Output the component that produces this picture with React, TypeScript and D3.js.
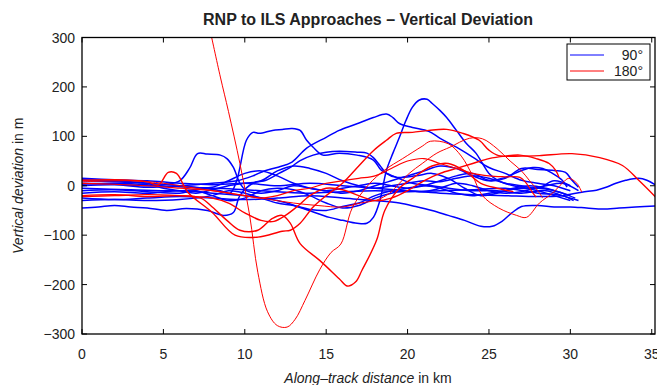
import React from 'react';
import * as d3 from 'd3';

const xTicks = [0, 5, 10, 15, 20, 25, 30, 35];
const yTicks = [-300, -200, -100, 0, 100, 200, 300];

// 90° approaches: [km, m]
const blue90: [number, number][][] = [
  [[0,-45],[1,-43],[2,-40],[3,-43],[4,-45],[5.2,-50],[6.4,-46],[7.7,-50],[8.7,-60],[9.3,-54],[9.7,-20],[10.5,5],[11.3,11],[12.1,25],[12.8,37],[13.4,51],[14.2,62],[15,68],[15.8,70],[16.9,68],[17.5,66],[17.9,57],[18.3,41],[18.7,25],[19.3,17],[20.5,20],[21.5,25],[22.5,15],[23.5,-5],[24.5,-20],[25.5,-15],[26.5,-5],[27.5,0],[28.5,-5],[29.5,-15],[30.3,-25]],
  [[0,10],[2,8],[4,5],[6,0],[7.5,-5],[8.5,-10],[9.1,-15],[9.5,10],[10.1,92],[10.5,108],[10.9,106],[11.7,112],[12.3,114],[12.9,116],[13.4,112],[13.8,92],[14.2,78],[14.8,62],[15.8,66],[16.9,62],[17.9,52],[18.4,31],[19.3,17],[20.3,5],[21.5,0],[22.5,-5],[24,-10],[25.5,-10],[27,-15],[28.5,-10],[29.5,-20],[30.5,-30]],
  [[0,-15],[2,-12],[4,-15],[6,-10],[8,-15],[10,-20],[12,-30],[13.5,-45],[15.2,-64],[16,-70],[16.9,-76],[17.5,-76],[17.9,-64],[18.3,-30],[18.7,31],[19.1,66],[19.5,98],[19.9,132],[20.3,159],[20.7,173],[21.2,175],[21.5,167],[22,152],[22.4,138],[23,112],[23.6,86],[24.2,66],[24.6,45],[25,25],[25.6,10],[26.5,0],[27.5,-5],[28.5,0],[29.5,5],[30.5,-10]],
  [[0,0],[2,2],[4,-3],[6,0],[8,5],[9.5,10],[10.5,20],[11.2,30],[12.1,38],[12.9,48],[13.8,76],[15,98],[15.8,112],[16.6,122],[17.1,128],[17.9,138],[18.7,145],[19.1,138],[19.5,126],[20.3,118],[21.3,110],[22,96],[23,78],[24,58],[25,37],[26,25],[27,11],[28,5],[29,0],[30,-10]],
  [[0,5],[2,3],[4,0],[5,2],[6,10],[6.6,35],[7.1,65],[7.7,64],[8.5,62],[8.9,55],[9.3,37],[9.7,5],[10.1,-10],[11,-15],[12,-10],[13,0],[14,-5],[15,-10],[16,-5],[17,0],[18,5],[19,0],[20,-5],[21,0],[22,10],[23,20],[24,25],[25,11],[26,17],[27,31],[27.7,37],[28.3,35],[28.9,25],[29.5,11],[29.8,-3]],
  [[0,15],[2,12],[4,10],[6,5],[8,2],[10,5],[12,0],[14,5],[16,0],[18,-5],[20,-10],[22,-15],[24,-18],[26,-20],[28,-22],[29.5,-20],[30.7,-13],[31.6,-9],[32.2,-3],[32.8,5],[33.4,11],[34.2,15],[34.7,11],[35.3,0]],
  [[0,-25],[2,-28],[4,-25],[6,-22],[8,-25],[10,-28],[12,-25],[14,-20],[16,-25],[18,-30],[19.5,-35],[20.5,-42],[21.5,-50],[22.5,-60],[23.5,-70],[24.5,-82],[25.2,-82],[25.8,-72],[26.4,-55],[27,-42],[28,-40],[29,-43],[30,-43],[31,-45],[32,-47],[33,-45],[34,-43],[35.3,-41]],
  [[0,-5],[3,-8],[6,-10],[8,-5],[10,-8],[12,-12],[14,-15],[16,-12],[18,-10],[20,-12],[22,-10],[24,-8],[26,-5],[28,-15],[29.5,-20],[30.2,-30]],
  [[0,-10],[2,-8],[4,-12],[6,-15],[7,-10],[8,-20],[9,-30],[10,-25],[11,-10],[12,-5],[13,-8],[14,-20],[15,-35],[16,-45],[17,-40],[18,-25],[19,-15],[20,-10],[21,-12],[22,-5],[23,5],[24,0],[25,-10],[26,-15],[27,-12],[28,-5],[29,-10],[30,-20]],
  [[0,3],[2,5],[4,2],[6,-2],[8,-3],[9,10],[10,25],[11,30],[12,20],[13,5],[14,-5],[15,-10],[16,-15],[17,-10],[18,0],[19,10],[20,20],[21,30],[22,40],[23,35],[24,20],[25,10],[26,15],[27,35],[28,33],[29,31],[29.7,27],[30.1,11],[30.5,-3]],
  [[0,-30],[2,-28],[4,-30],[6,-28],[8,-20],[9,-10],[10,-15],[11,-25],[12,-35],[13,-40],[14,-48],[15,-50],[16,-42],[17,-35],[18,-20],[19,-10],[20,-5],[21,0],[22,-5],[23,-15],[24,-20],[25,-15],[26,-10],[27,-5],[28,-10],[29,-20],[30,-30]],
  [[0,12],[2,10],[4,5],[5,-5],[6,-10],[7,-15],[8,-8],[9,0],[10,5],[11,10],[12,30],[13,40],[14,35],[15,25],[16,10],[17,0],[18,-5],[19,0],[20,5],[21,10],[22,8],[23,15],[24,20],[25,15],[26,5],[27,0],[28,-5],[29,10],[30,0]],
];

// 180° approaches: [km, m]
const red180: [number, number][][] = [
  [[7.9,310],[8.5,220],[9,150],[9.7,45],[10.3,-60],[10.8,-175],[11.4,-255],[12,-283],[12.6,-286],[13.1,-270],[13.7,-232],[14.6,-170],[15.3,-135],[15.9,-118],[16.6,-45],[17.6,2],[18.6,32],[19.7,55],[20.9,80],[21.4,90],[22.5,85],[23.3,60],[24,20],[24.6,-20],[25.6,-45],[26.7,-60],[27.3,-64],[28.1,-35],[28.9,-15],[29.5,5],[29.9,15],[30.4,5],[30.7,-13]],
  [[0,-20],[2,-18],[4,-22],[6,-20],[7.3,-25],[8,-43],[8.9,-70],[9.7,-90],[10.8,-90],[11.7,-66],[12.3,-60],[12.8,-76],[13.4,-117],[14.6,-151],[15.8,-188],[16.3,-203],[16.8,-195],[17.2,-171],[18.1,-110],[18.6,-50],[19.5,-5],[20.3,15],[21.5,40],[22.5,45],[23.5,30],[24.5,5],[25.5,-5],[26.5,-12]],
  [[0,11],[2,12],[4,8],[4.7,2],[5.3,27],[5.8,25],[6.5,-13],[8,-54],[9.4,-100],[10.8,-104],[12.3,-92],[12.8,-90],[13.4,-76],[14.2,-43],[15,-20],[16,5],[17,40],[17.9,71],[18.7,92],[19.3,106],[20.3,108],[21.3,112],[22.4,114],[23.4,106],[24.4,92],[25,72],[25.6,61],[27,60],[28.1,61],[30.1,65],[31.8,57],[33.2,41],[34.2,11],[35.3,-25]],
  [[0,-22],[2,-20],[4,-18],[6,-20],[7,-22],[8,-25],[9,-35],[10,-55],[11,-70],[11.8,-72],[12.5,-60],[13.3,-40],[14,-20],[15,-5],[16,-8],[17,-20],[18,-30],[19,-25],[20,-10],[21,10],[22,25],[23,35],[24,45],[25,55],[26,60],[26.9,62],[27.9,55],[28.7,45],[29.1,31],[29.3,17]],
  [[0,8],[3,10],[5,5],[7,-5],[9,-15],[11,-25],[13,-35],[14.5,-40],[16,-43],[17.1,-35],[18.1,-29],[18.9,-15],[19.5,5],[20.1,25],[20.9,45],[21.8,66],[22.6,78],[23.8,96],[24.6,95],[25.5,75],[26.3,50],[27,30],[27.5,10],[28,-10],[28.3,-25]],
  [[0,5],[2,3],[4,0],[6,-5],[8,-10],[10,-20],[11,-25],[12,-20],[13,-10],[14,-5],[15,5],[16,10],[17,15],[18,20],[19,35],[20,50],[21,55],[22,45],[23,35],[24,25],[25,20],[26,18],[26.9,17],[27.3,5],[27.7,-15],[27.9,-23]],
];
const redWidths = [1, 1.4, 1.4, 1.4, 1, 1.2];

const legendLabels = ['90°', '180°'];

function App() {
  const width = 657, height = 385;
  const left = 82, right = 655, top = 37.5, bottom = 334;
  const font = 'Liberation Sans, Arial, Helvetica, sans-serif';

  const x = d3.scaleLinear().domain([0, 35.2]).range([left, right]);
  const y = d3.scaleLinear().domain([-300, 300]).range([bottom, top]);

  const line = d3.line<[number, number]>()
    .x((d) => x(d[0]))
    .y((d) => y(d[1]))
    .curve(d3.curveCatmullRom.alpha(0.5));

  const tick = 5;

  return (
    <svg width={width} height={height} style={{ position: 'absolute', left: 0, top: 0 }} xmlns="http://www.w3.org/2000/svg">
      <defs>
        <clipPath id="plot">
          <rect x={left} y={top} width={right - left} height={bottom - top} />
        </clipPath>
      </defs>
      <rect x={0} y={0} width={width} height={height} fill="#fff" />

      <g clipPath="url(#plot)" fill="none">
        {blue90.map((v, i) => <path key={`B_${i}`} d={line(v) || ''} stroke="#0000ff" strokeWidth={1.5} />)}
        {red180.map((v, i) => <path key={`R_${i}`} d={line(v) || ''} stroke="#ff0000" strokeWidth={redWidths[i]} />)}
      </g>

      <rect x={left} y={top} width={right - left} height={bottom - top} fill="none" stroke="#000" strokeWidth={1.3} />

      {xTicks.map((v, i) => (
        <g key={`TX_${i}`}>
          <line x1={x(v)} x2={x(v)} y1={bottom} y2={bottom - tick} stroke="#000" />
          <line x1={x(v)} x2={x(v)} y1={top} y2={top + tick} stroke="#000" />
          <text x={x(v)} y={359} textAnchor="middle" fontFamily={font} fontSize={14} fill="#222">{v}</text>
        </g>
      ))}
      {yTicks.map((v, i) => (
        <g key={`TY_${i}`}>
          <line x1={left} x2={left + tick} y1={y(v)} y2={y(v)} stroke="#000" />
          <line x1={right} x2={right - tick} y1={y(v)} y2={y(v)} stroke="#000" />
          <text x={75} y={y(v) + 5} textAnchor="end" fontFamily={font} fontSize={14} fill="#222">{v < 0 ? `\u2212${-v}` : v}</text>
        </g>
      ))}

      <text x={368} y={25} textAnchor="middle" fontFamily={font} fontSize={16} fontWeight="bold" fill="#222">
        RNP to ILS Approaches – Vertical Deviation
      </text>
      <text x={368} y={383} textAnchor="middle" fontFamily={font} fontSize={14} fill="#222">
        <tspan fontStyle="italic">Along–track distance</tspan> in km
      </text>
      <text transform={`translate(23, ${(top + bottom) / 2}) rotate(-90)`} textAnchor="middle" fontFamily={font} fontSize={14} fill="#222">
        <tspan fontStyle="italic">Vertical deviation</tspan> in m
      </text>

      <g>
        <rect x={567} y={44} width={83} height={36} fill="#fff" stroke="#000" strokeWidth={1} />
        {legendLabels.map((v, i) => (
          <g key={`L_${i}`}>
            <line x1={570} x2={604} y1={55 + i * 16} y2={55 + i * 16} stroke={i === 0 ? '#0000ff' : '#ff0000'} strokeWidth={1} />
            <text x={643} y={60 + i * 16} textAnchor="end" fontFamily={font} fontSize={14} fill="#222">{v}</text>
          </g>
        ))}
      </g>
    </svg>
  );
}

export default App;
